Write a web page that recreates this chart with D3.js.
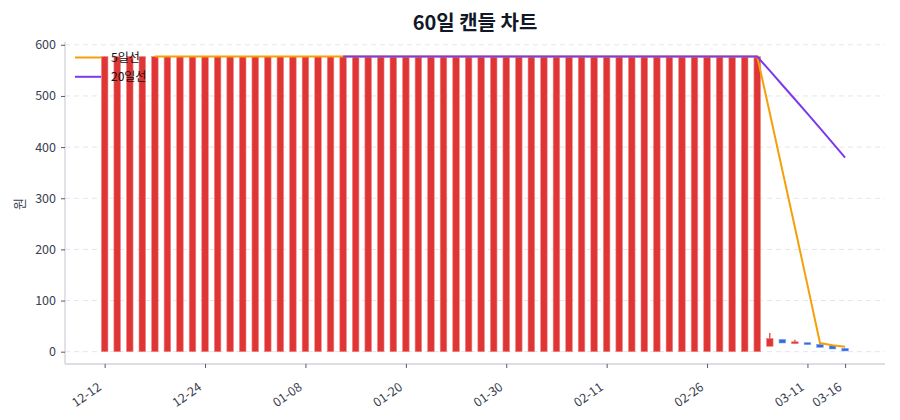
<!DOCTYPE html>
<html><head><meta charset="utf-8">
<script src="https://cdn.jsdelivr.net/npm/d3@7"></script>
<style>
html,body{margin:0;padding:0;background:#fff;}
svg{display:block;font-family:"Noto Sans CJK KR","Noto Sans",sans-serif;}
</style></head>
<body><svg id="c" width="900" height="420"></svg>
<script>
const dates = ["12-12","12-15","12-16","12-17","12-18","12-19","12-22","12-23","12-24","12-26",
"12-29","12-30","01-02","01-05","01-06","01-07","01-08","01-09","01-12","01-13",
"01-14","01-15","01-16","01-19","01-20","01-21","01-22","01-23","01-26","01-27",
"01-28","01-29","01-30","02-02","02-03","02-04","02-05","02-06","02-09","02-10",
"02-11","02-12","02-13","02-19","02-20","02-23","02-24","02-25","02-26","02-27",
"03-03","03-04","03-05","03-06","03-09","03-10","03-11","03-12","03-13","03-16"];
const opens = [0,0,0,0,0,0,0,0,0,0, 0,0,0,0,0,0,0,0,0,0, 0,0,0,0,0,0,0,0,0,0,
0,0,0,0,0,0,0,0,0,0, 0,0,0,0,0,0,0,0,0,0, 0,0,0,10.5,24,15.6,17.6,14.4,11.7,6.6];
const closes = [577,577,577,577,577,577,577,577,577,577, 577,577,577,577,577,577,577,577,577,577,
577,577,577,577,577,577,577,577,577,577, 577,577,577,577,577,577,577,577,577,577,
577,577,577,577,577,577,577,577,577,577, 577,577,577,26,17,19.5,13.7,8.6,5.3,1.4];
const highs = [577,577,577,577,577,577,577,577,577,577, 577,577,577,577,577,577,577,577,577,577,
577,577,577,577,577,577,577,577,577,577, 577,577,577,577,577,577,577,577,577,577,
577,577,577,577,577,577,577,577,577,577, 577,577,577,36.5,24,23.4,17.6,14.4,11.7,6.6];
const lows = [0,0,0,0,0,0,0,0,0,0, 0,0,0,0,0,0,0,0,0,0, 0,0,0,0,0,0,0,0,0,0,
0,0,0,0,0,0,0,0,0,0, 0,0,0,0,0,0,0,0,0,0, 0,0,0,10.5,17,15.3,13.7,8.6,5.3,1.4];
const ma5 = [null,null,null,null,577,577,577,577,577,577, 577,577,577,577,577,577,577,577,577,577,
577,577,577,577,577,577,577,577,577,577, 577,577,577,577,577,577,577,577,577,577,
577,577,577,577,577,577,577,577,577,577, 577,577,577,466.8,354.8,243.3,130.6,17.0,12.8,9.7];
const ma20 = [null,null,null,null,null,null,null,null,null,null, null,null,null,null,null,null,null,null,null,577,
577,577,577,577,577,577,577,577,577,577, 577,577,577,577,577,577,577,577,577,577,
577,577,577,577,577,577,577,577,577,577, 577,577,577,549.5,521.4,493.6,465.4,437.0,408.4,379.6];
const xTickIdx = [0,8,16,24,32,40,48,56,59];
const yTicks = [0,100,200,300,400,500,600];
const legendLabels = ["5일선","20일선"];
const title = "60일 캔들 차트";
const yLabel = "원";

const svg = d3.select("#c");
const L=65, R=885, B=364;
const x = d3.scaleLinear().domain([-3.16, 62.18]).range([L, R]);
const y = d3.scaleLinear().domain([0, 600]).range([351.7, 44.8]);
const T = y(606);
const UP="#e03535", DOWN="#2f6ae8", C5="#f59f0a", C20="#7c3aed";

// grid
svg.append("g").selectAll("line").data(yTicks).join("line")
  .attr("x1",L).attr("x2",R).attr("y1",d=>y(d)).attr("y2",d=>y(d))
  .attr("stroke","#e3e6ea").attr("stroke-dasharray","5,4").attr("stroke-width",1);

// axes
const yAxis = svg.append("g").attr("transform",`translate(${L},0)`)
  .call(d3.axisLeft(y).tickValues(yTicks).tickSize(4).tickPadding(5));
const xAxis = svg.append("g").attr("transform",`translate(0,${B})`)
  .call(d3.axisBottom(x).tickValues(xTickIdx).tickFormat(i=>dates[i]).tickSize(4).tickPadding(4));
[yAxis,xAxis].forEach(g=>{
  g.select(".domain").attr("stroke","#cfd3da").attr("stroke-width",1.3);
  g.selectAll(".tick line").attr("stroke","#555b66");
  g.selectAll("text").attr("fill","#3a4150").style("font-size","12.5px")
   .style("font-family",'"Noto Sans CJK KR","Noto Sans",sans-serif');
});
xAxis.select(".domain").attr("d",`M${L},0H${R}`);
yAxis.select(".domain").attr("d",`M0,${T}V${B}`);
xAxis.selectAll("text").attr("text-anchor","end").attr("dy","0").attr("y",0)
  .attr("transform","translate(-3,25) rotate(-35)");

// candles
const idx = d3.range(dates.length);
const cw = 6.6;
const cg = svg.append("g");
cg.selectAll("line").data(idx).join("line")
  .attr("x1",i=>x(i)).attr("x2",i=>x(i))
  .attr("y1",i=>y(highs[i])).attr("y2",i=>y(lows[i]))
  .attr("stroke",i=>closes[i]>=opens[i]?UP:DOWN).attr("stroke-width",1.2);
cg.selectAll("rect").data(idx).join("rect")
  .attr("x",i=>x(i)-cw/2).attr("width",cw)
  .attr("y",i=>y(Math.max(opens[i],closes[i])))
  .attr("height",i=>Math.max(1.5,Math.abs(y(opens[i])-y(closes[i]))))
  .attr("fill",i=>closes[i]>=opens[i]?UP:DOWN)
  .attr("stroke",i=>closes[i]>=opens[i]?"#f08a8a":"#7fa6f0").attr("stroke-width",0.6);

// MA lines
const line = d3.line().defined(d=>d[1]!=null).x(d=>x(d[0])).y(d=>y(d[1]));
svg.append("path").datum(idx.map(i=>[i,ma5[i]])).attr("d",line)
  .attr("fill","none").attr("stroke",C5).attr("stroke-width",2);
svg.append("path").datum(idx.map(i=>[i,ma20[i]])).attr("d",line)
  .attr("fill","none").attr("stroke",C20).attr("stroke-width",2);

// legend
const lg = svg.append("g");
[C5,C20].forEach((c,k)=>{
  const yy = 57.5 + k*19.3;
  lg.append("line").attr("x1",75).attr("x2",101).attr("y1",yy).attr("y2",yy)
    .attr("stroke",c).attr("stroke-width",2);
  lg.append("text").attr("x",111).attr("y",yy+4.3).text(legendLabels[k])
    .attr("fill","#111").style("font-size","12px");
});

// title
svg.append("text").attr("x",(L+R)/2).attr("y",30).attr("text-anchor","middle")
  .style("font-size","20px").style("font-weight","700").attr("fill","#111827").text(title);
// y label
svg.append("text").attr("transform",`translate(24,204) rotate(-90)`).attr("text-anchor","middle")
  .style("font-size","13px").attr("fill","#3a4150").text(yLabel);
</script></body></html>
